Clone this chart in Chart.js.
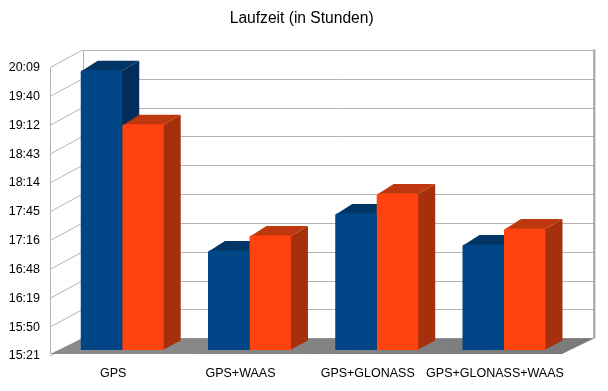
<!DOCTYPE html>
<html><head><meta charset="utf-8">
<script src="https://cdn.jsdelivr.net/npm/chart.js@4/dist/chart.umd.min.js"></script>
<style>html,body{margin:0;padding:0;background:#fff;} #wrap{width:608px;height:391px;position:relative;}</style>
</head><body><div id="wrap"><canvas id="c" width="608" height="391"></canvas></div>
<script>
// ---- data ----
const categories = ['GPS', 'GPS+WAAS', 'GPS+GLONASS', 'GPS+GLONASS+WAAS'];
const series1Name = 'Serie 1';
const series1 = ['20:01', '17:01', '17:38', '17:07'];
const series2Name = 'Serie 2';
const series2 = ['19:07', '17:16', '17:58', '17:23'];
const yTickLabels = ['15:21', '15:50', '16:19', '16:48', '17:16', '17:45', '18:14', '18:43', '19:12', '19:40', '20:09'];
const yAxisStartMinutes = 921.6;   // 15:21.6
const yAxisStepMinutes = 28.8;
const titleText = 'Laufzeit (in Stunden)';

function toMinutes(s) { const p = s.split(':'); return (+p[0]) * 60 + (+p[1]); }

// ---- styles ----
const FONT = '"Liberation Sans", Arial, sans-serif';
const faces = [
  { front: '#004586', side: '#002d5a', top: '#003566' },
  { front: '#ff420e', side: '#a5300b', top: '#bd380e' }
];
const BAR_DX = 17, BAR_DY = -9.5;

function drawBarFaces(chart, index) {
  const ctx = chart.ctx;
  const f = faces[index];
  const meta = chart.getDatasetMeta(index);
  ctx.save();
  meta.data.forEach(bar => {
    const { x, y, base, width } = bar.getProps(['x', 'y', 'base', 'width'], true);
    const l = x - width / 2, r = x + width / 2;
    ctx.fillStyle = f.side;
    ctx.beginPath();
    ctx.moveTo(r - 1, y + 1); ctx.lineTo(r + BAR_DX, y + BAR_DY); ctx.lineTo(r + BAR_DX, base + BAR_DY); ctx.lineTo(r - 1, base);
    ctx.closePath(); ctx.fill();
    ctx.fillStyle = f.top;
    ctx.beginPath();
    ctx.moveTo(l + 0.5, y + 1); ctx.lineTo(l + BAR_DX, y + BAR_DY); ctx.lineTo(r + BAR_DX, y + BAR_DY); ctx.lineTo(r - 1, y + 1);
    ctx.closePath(); ctx.fill();
  });
  ctx.restore();
}

const room3d = {
  id: 'room3d',
  beforeDatasetsDraw(chart) {
    const { ctx, chartArea: a, scales: { y } } = chart;
    const fl = a.left - 8.6, bl = a.left + 24.1, fr = a.right - 5.6, br = a.right + 26.7;
    const fdy = 6, bdy = -11.7, floorFront = 4;
    const ticks = y.ticks;
    const yTop = y.getPixelForValue(ticks[ticks.length - 1].value);
    const yBot = y.getPixelForValue(ticks[0].value);
    ctx.save();
    ctx.lineWidth = 1; ctx.strokeStyle = '#b3b3b3';
    ticks.forEach(t => {
      const p = y.getPixelForValue(t.value);
      const py = Math.round(p + bdy) + 0.5;
      ctx.beginPath(); ctx.moveTo(bl, py); ctx.lineTo(br, py); ctx.stroke();
      ctx.beginPath(); ctx.moveTo(fl, p + fdy); ctx.lineTo(bl, p + bdy); ctx.stroke();
    });
    ctx.beginPath(); ctx.moveTo(Math.round(fl) + 0.5, yTop + fdy); ctx.lineTo(Math.round(fl) + 0.5, yBot + floorFront); ctx.stroke();
    ctx.beginPath(); ctx.moveTo(Math.round(bl) + 0.5, yTop + bdy); ctx.lineTo(Math.round(bl) + 0.5, yBot + bdy); ctx.stroke();
    ctx.strokeStyle = '#a0a0a0'; ctx.lineWidth = 2;
    ctx.beginPath(); ctx.moveTo(br, yTop + bdy - 0.5); ctx.lineTo(br, yBot + bdy); ctx.stroke();
    // floor
    const g = ctx.createLinearGradient(fl, 0, br, 0);
    g.addColorStop(0, '#8c8c8c'); g.addColorStop(1, '#7a7a7a');
    ctx.fillStyle = g;
    ctx.beginPath();
    ctx.moveTo(fl, yBot + floorFront); ctx.lineTo(fr, yBot + floorFront); ctx.lineTo(br, yBot + bdy); ctx.lineTo(bl, yBot + bdy);
    ctx.closePath(); ctx.fill();
    ctx.restore();
    // first series' depth faces go behind everything else
    drawBarFaces(chart, 0);
  },
  beforeDatasetDraw(chart, args) {
    if (args.index > 0) drawBarFaces(chart, args.index);
  }
};

new Chart(document.getElementById('c'), {
  type: 'bar',
  data: {
    labels: categories,
    datasets: [
      { label: series1Name, data: series1.map(toMinutes), backgroundColor: faces[0].front, base: yAxisStartMinutes,
        categoryPercentage: 0.652, barPercentage: 1.0, borderRadius: 2, borderSkipped: 'bottom' },
      { label: series2Name, data: series2.map(toMinutes), backgroundColor: faces[1].front, base: yAxisStartMinutes,
        categoryPercentage: 0.652, barPercentage: 1.0, borderRadius: 2, borderSkipped: 'bottom' }
    ]
  },
  options: {
    responsive: false,
    devicePixelRatio: 1,
    animation: false,
    layout: { autoPadding: false, padding: { left: 0, right: 4.6, top: 0, bottom: 0 } },
    plugins: {
      legend: { display: false },
      tooltip: { enabled: false },
      title: {
        display: true, text: titleText, color: '#000',
        font: { family: FONT, size: 15.6, weight: 'normal' },
        padding: { top: 9, bottom: 33.9 }
      }
    },
    scales: {
      x: {
        grid: { display: false, drawTicks: false, tickLength: 0 },
        border: { display: false },
        ticks: { color: '#000', font: { family: FONT, size: 12.5 }, padding: 16, labelOffset: -9, maxRotation: 0, autoSkip: false },
        afterFit(s) { s.height = 41; }
      },
      y: {
        min: yAxisStartMinutes,
        max: yAxisStartMinutes + yAxisStepMinutes * (yTickLabels.length - 1),
        grid: { display: false, drawTicks: false, tickLength: 0 },
        border: { display: false },
        afterBuildTicks(s) { s.ticks = yTickLabels.map((_, i) => ({ value: yAxisStartMinutes + i * yAxisStepMinutes })); },
        ticks: { color: '#000', font: { family: FONT, size: 12.5 }, padding: 18.6, labelOffset: 6,
          callback: (v, i) => yTickLabels[i] },
        afterFit(s) { s.width = 58.6; }
      },
      yRight: {
        position: 'right',
        min: yAxisStartMinutes,
        max: yAxisStartMinutes + yAxisStepMinutes * (yTickLabels.length - 1),
        grid: { display: false, drawTicks: false },
        border: { display: false },
        ticks: { display: false },
        afterFit(s) { s.width = 35.8; }
      }
    }
  },
  plugins: [room3d]
});
</script>
</body></html>
